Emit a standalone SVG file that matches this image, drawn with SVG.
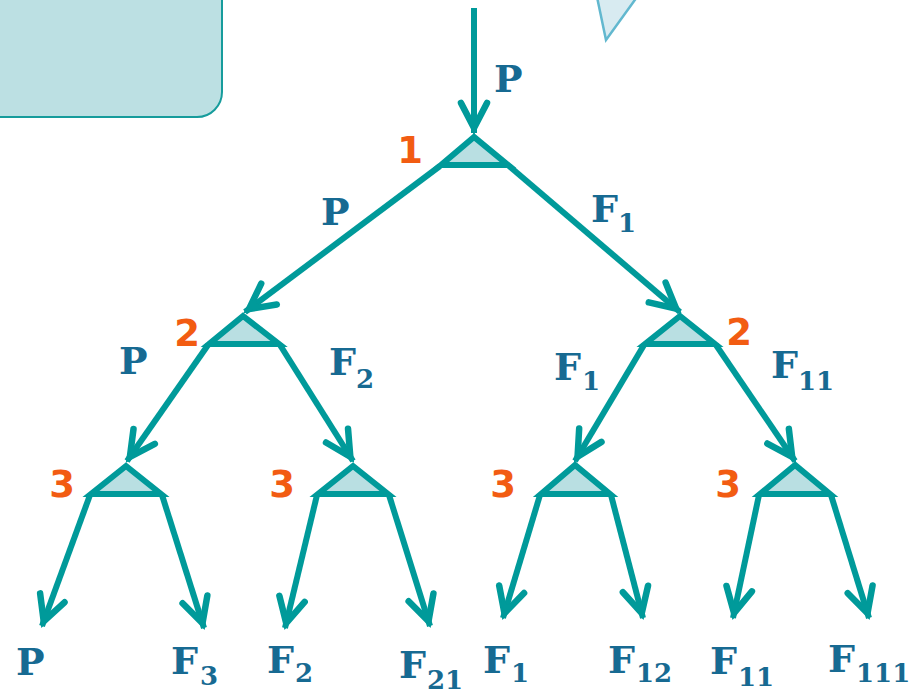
<svg xmlns="http://www.w3.org/2000/svg" width="919" height="693" viewBox="0 0 919 693">
<style>
.edge{stroke:#009a9a;stroke-width:6;fill:none;stroke-linecap:butt;marker-end:url(#ah)}
.tri{fill:#b9dfe2;stroke:#009a9a;stroke-width:6;stroke-linejoin:miter}
.lbl{font-family:'DejaVu Serif','Liberation Serif',serif;font-weight:700;font-size:38px;fill:#176a92}
.sub{font-family:'DejaVu Serif','Liberation Serif',serif;font-weight:700;font-size:26px;fill:#176a92}
.num{font-family:'DejaVu Sans',Verdana,sans-serif;font-weight:700;font-size:37px;fill:#f25c12;text-anchor:middle}
</style>
<defs>
<marker id="ah" markerUnits="userSpaceOnUse" orient="auto" refX="0" refY="0" markerWidth="60" markerHeight="60" viewBox="-40 -30 60 60" overflow="visible">
<path d="M-30,-13 L-5,0 L-30,13" fill="none" stroke="#009a9a" stroke-width="6.5" stroke-linecap="round" stroke-linejoin="miter" stroke-miterlimit="10"/>
<path d="M1,0 L-18,-7 L-14,0 L-18,7 Z" fill="#009a9a"/>
</marker>
</defs>
<rect id="box" x="-30" y="-30" width="252" height="147" rx="25" fill="#bce0e3" stroke="#169c9c" stroke-width="2"/>
<polygon id="callout" points="597,-3 606,40 637,-3" fill="#d8ebf1" stroke="#62b8cf" stroke-width="2.5"/>
<g id="connectors">
<line class="edge" x1="474" y1="8" x2="474" y2="133"/>
<line class="edge" x1="440" y1="166" x2="245" y2="312"/>
<line class="edge" x1="509" y1="166" x2="680" y2="312"/>
<line class="edge" x1="208" y1="345" x2="127" y2="461"/>
<line class="edge" x1="280" y1="345" x2="353" y2="461"/>
<line class="edge" x1="644" y1="345" x2="575" y2="461"/>
<line class="edge" x1="716" y1="345" x2="795" y2="461"/>
<line class="edge" x1="90" y1="495" x2="42" y2="626"/>
<line class="edge" x1="162" y1="495" x2="204" y2="628"/>
<line class="edge" x1="317" y1="495" x2="285" y2="628"/>
<line class="edge" x1="389" y1="495" x2="430" y2="626"/>
<line class="edge" x1="540" y1="495" x2="503" y2="618"/>
<line class="edge" x1="611" y1="495" x2="643" y2="618"/>
<line class="edge" x1="759" y1="495" x2="733" y2="618"/>
<line class="edge" x1="831" y1="495" x2="869" y2="618"/>
</g>
<g id="node1">
<polygon class="tri" points="474,137 441,165 508,165"/>
<text class="num" x="410" y="163">1</text>
</g>
<g id="node2a">
<polygon class="tri" points="243,316 209,344 279,344"/>
<text class="num" x="187" y="346">2</text>
</g>
<g id="node2b">
<polygon class="tri" points="680,316 645,344 715,344"/>
<text class="num" x="739" y="345">2</text>
</g>
<g id="node3a">
<polygon class="tri" points="126,466 91,494 161,494"/>
<text class="num" x="62" y="497">3</text>
</g>
<g id="node3b">
<polygon class="tri" points="353,466 318,494 388,494"/>
<text class="num" x="282" y="497">3</text>
</g>
<g id="node3c">
<polygon class="tri" points="575,465 541,494 610,494"/>
<text class="num" x="503" y="497">3</text>
</g>
<g id="node3d">
<polygon class="tri" points="795,465 760,494 830,494"/>
<text class="num" x="728" y="497">3</text>
</g>
<g id="labels">
<text class="lbl" x="494" y="92">P</text>
<text class="lbl" x="321" y="225">P</text>
<text class="lbl" x="591" y="222">F</text><text class="sub" x="618" y="232">1</text>
<text class="lbl" x="119" y="374">P</text>
<text class="lbl" x="329" y="375">F</text><text class="sub" x="356" y="388">2</text>
<text class="lbl" x="554" y="380">F</text><text class="sub" x="582" y="390">1</text>
<text class="lbl" x="771" y="378">F</text><text class="sub" x="798" y="390">11</text>
<text class="lbl" x="16" y="675">P</text>
<text class="lbl" x="171" y="674">F</text><text class="sub" x="200" y="685">3</text>
<text class="lbl" x="267" y="673">F</text><text class="sub" x="295" y="682">2</text>
<text class="lbl" x="399" y="678">F</text><text class="sub" x="427" y="689">21</text>
<text class="lbl" x="483" y="673">F</text><text class="sub" x="511" y="682">1</text>
<text class="lbl" x="608" y="673">F</text><text class="sub" x="636" y="682">12</text>
<text class="lbl" x="710" y="674">F</text><text class="sub" x="738" y="686">11</text>
<text class="lbl" x="828" y="672">F</text><text class="sub" x="856" y="682">111</text>
</g>
</svg>
